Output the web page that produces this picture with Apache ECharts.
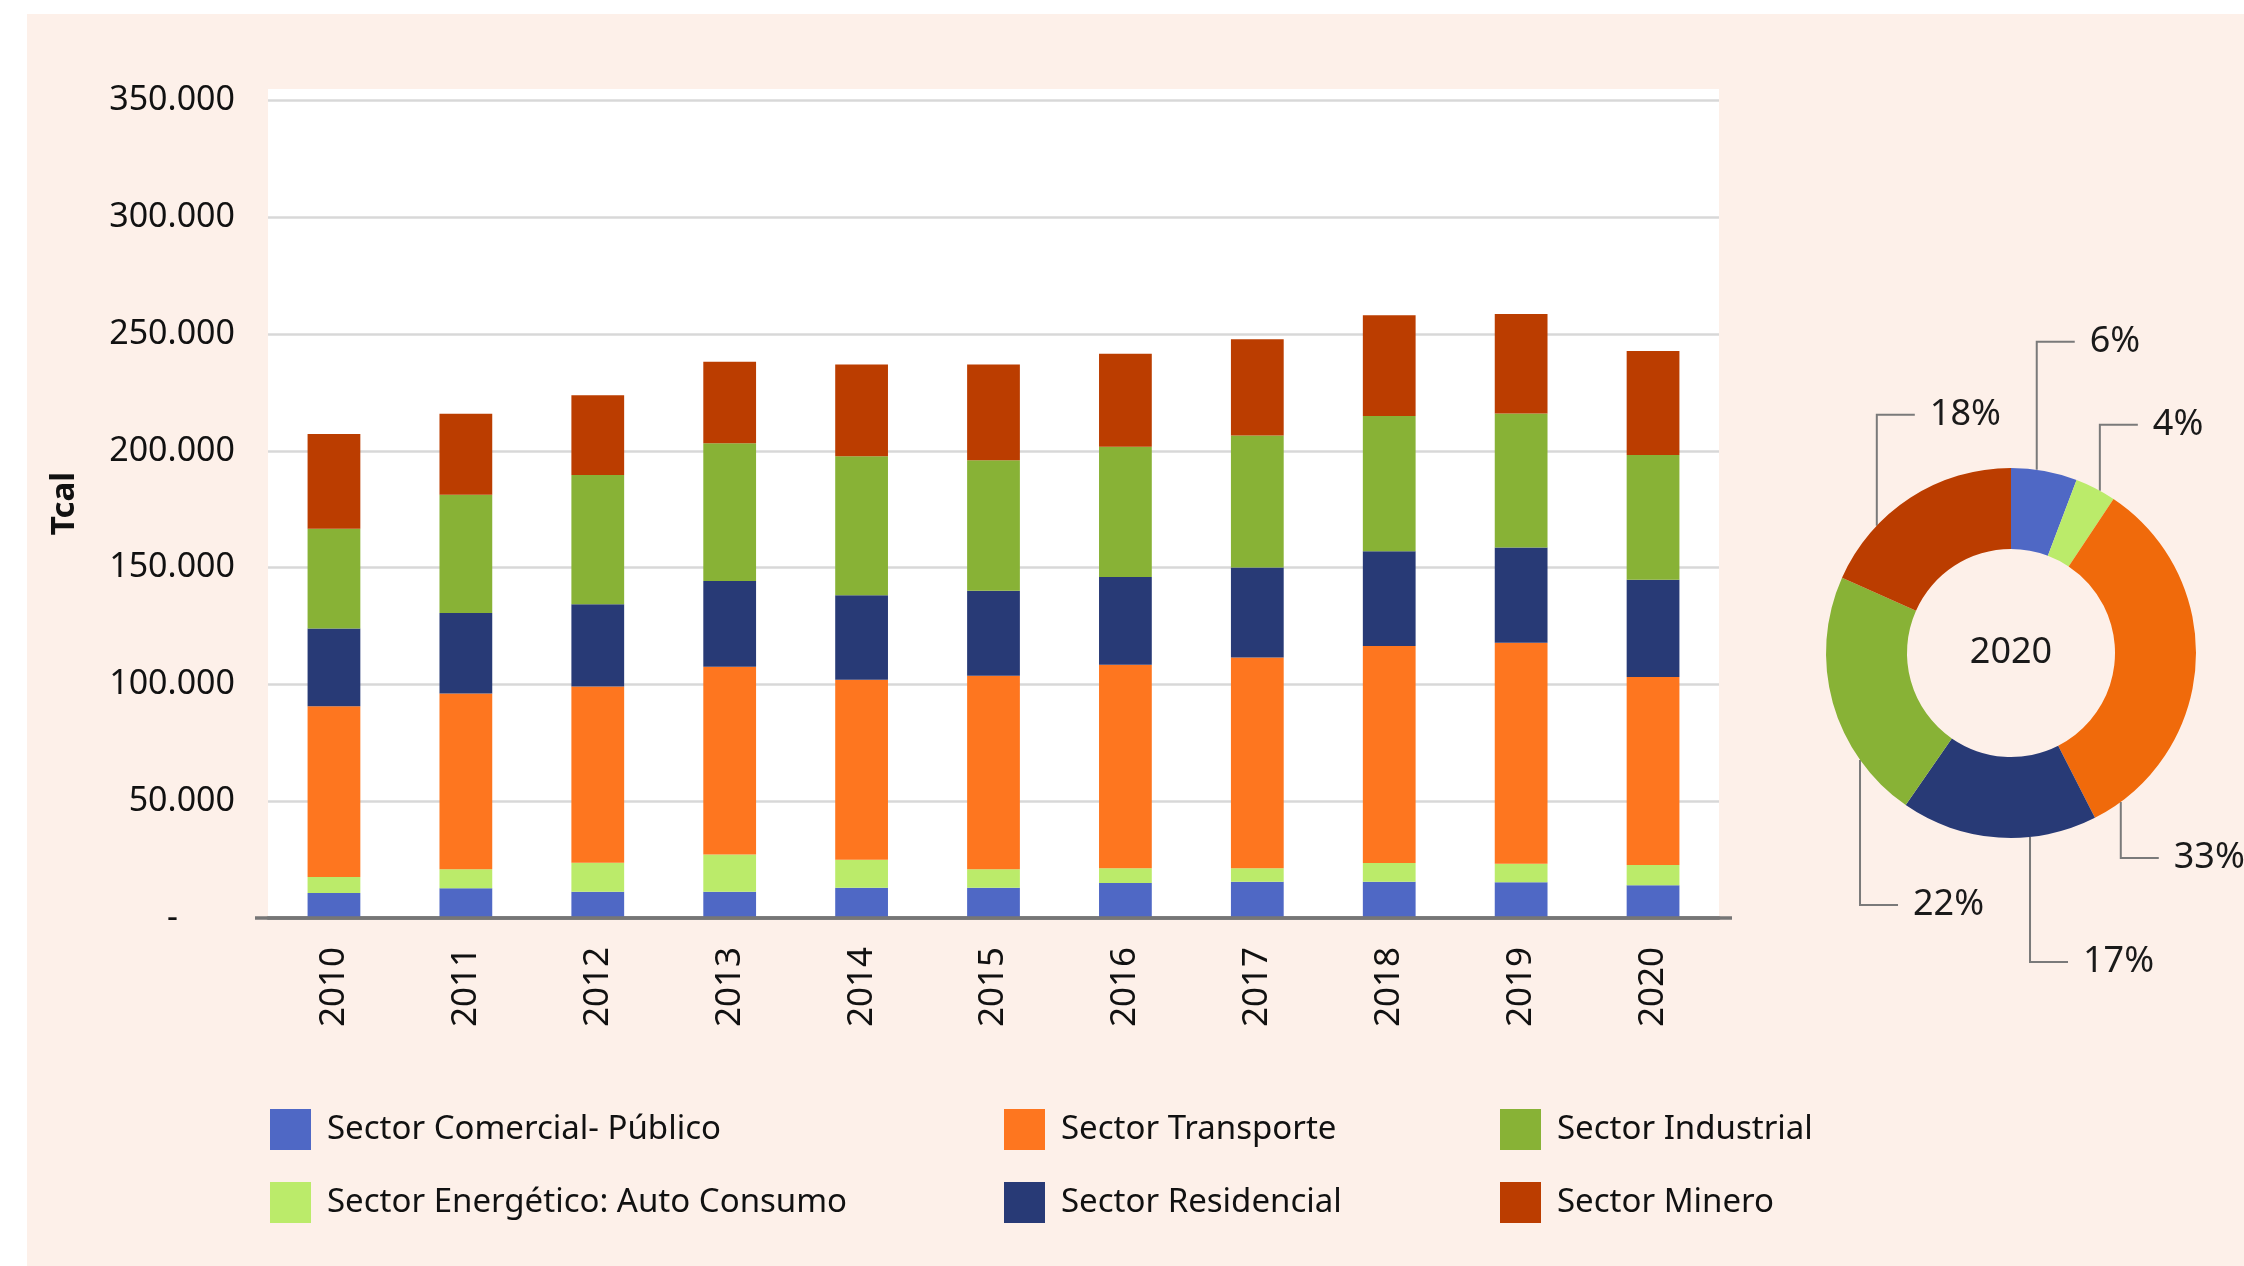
<!DOCTYPE html>
<html>
<head>
<meta charset="utf-8">
<script src="https://cdn.jsdelivr.net/npm/echarts@6/dist/echarts.min.js"></script>
<style>
  html, body { margin: 0; padding: 0; background: #ffffff; }
  #panel { position: absolute; left: 27px; top: 14px; right: 0; bottom: 0; background: #fdf0e9; }
  #chart { position: absolute; left: 0; top: 0; width: 2244px; height: 1266px; }
</style>
</head>
<body>
<div id="panel"></div>
<div id="chart"></div>
<script>
// Consumo final de energía por sector (Tcal), 2010-2020
const years = ['2010', '2011', '2012', '2013', '2014', '2015', '2016', '2017', '2018', '2019', '2020'];

const sectorNames = [
  'Sector Comercial- Público',
  'Sector Energético: Auto Consumo',
  'Sector Transporte',
  'Sector Residencial',
  'Sector Industrial',
  'Sector Minero'
];

const comercialPublico = [10700, 12700, 11200, 11200, 13000, 13000, 15000, 15500, 15500, 15300, 14000];
const energeticoAuto   = [6900, 8200, 12500, 16000, 11900, 7900, 6300, 5800, 8100, 7900, 8700];
const transporte       = [73100, 75200, 75400, 80400, 77100, 82800, 87200, 90200, 92900, 94700, 80500];
const residencial      = [33300, 34500, 35300, 36700, 36200, 36400, 37500, 38600, 40500, 40800, 41600];
const industrial       = [42700, 50600, 55300, 59000, 59500, 55900, 55800, 56500, 58000, 57300, 53500];
const minero           = [40600, 34700, 34200, 34900, 39300, 41000, 39800, 41200, 43100, 42700, 44500];

// Y axis ticks
const yTickStep = 50000;
const yAxisMax = 355000;

const sectorValues = [comercialPublico, energeticoAuto, transporte, residencial, industrial, minero];
const barColors = ['#4f68c5', '#bbeb6a', '#fe761f', '#283a76', '#88b236', '#bb3d00'];
const pieColors = ['#4f68c5', '#bbeb6a', '#f06a0b', '#283a76', '#88b236', '#bb3d00'];

const FONT = '"Noto Sans", "Open Sans", sans-serif';

function thousands(v) {
  return String(v).replace(/\B(?=(\d{3})+(?!\d))/g, '.');
}

// Plot frame (pixels)
const gridLeft = 268, gridTop = 89, gridWidth = 1451, gridHeight = 829;
const axisOverhang = 13;

// Donut geometry (pixels) and elbow leader lines for its labels
const pieCx = 2011, pieCy = 653, pieR0 = 104, pieR1 = 185;
const leaderStyle = [
  { angle: 8.0,   rise: -128 },
  { angle: 28.7,  rise: -66 },
  { angle: 143.6, rise: 56 },
  { angle: 174.1, rise: 125 },
  { angle: 234.7, rise: 145 },
  { angle: 313.5, rise: -111 }
];
const leaderArm = 38;

const lastIdx = years.length - 1;

const barSeries = sectorNames.map((name, i) => ({
  name: name,
  type: 'bar',
  stack: 'total',
  barWidth: '40%',
  itemStyle: { color: barColors[i] },
  emphasis: { disabled: true },
  data: sectorValues[i]
}));

const pieSeries = {
  type: 'pie',
  center: [pieCx, pieCy],
  radius: [pieR0, pieR1],
  startAngle: 90,
  clockwise: true,
  percentPrecision: 0,
  avoidLabelOverlap: false,
  emphasis: { disabled: true },
  label: {
    show: true,
    position: 'outside',
    formatter: '{d}%',
    fontFamily: FONT,
    fontSize: 36,
    color: '#1a1a1a'
  },
  labelLine: { show: true, lineStyle: { color: '#7a7a7a', width: 2 } },
  labelLayout: function (p) {
    const L = leaderStyle[p.dataIndex];
    const a = L.angle * Math.PI / 180;
    const ax = pieCx + pieR1 * Math.sin(a);
    const ay = pieCy - pieR1 * Math.cos(a);
    const ey = ay + L.rise;
    const ex = ax + leaderArm;
    return {
      x: ex + 15,
      y: ey,
      align: 'left',
      verticalAlign: 'middle',
      labelLinePoints: [[ax, ay], [ax, ey], [ex, ey]]
    };
  },
  data: sectorNames.map((name, i) => ({
    name: name,
    value: sectorValues[i][lastIdx],
    itemStyle: { color: pieColors[i] }
  }))
};

function legendColumn(left, names) {
  return {
    orient: 'vertical',
    left: left,
    top: 1109,
    padding: 0,
    itemGap: 32,
    itemWidth: 41,
    itemHeight: 41,
    icon: 'rect',
    selectedMode: false,
    textStyle: {
      fontFamily: FONT,
      fontSize: 33,
      color: '#111111',
      padding: [0, 0, 0, 11]
    },
    data: names
  };
}

const option = {
  animation: false,
  backgroundColor: 'transparent',
  textStyle: { fontFamily: FONT },
  grid: {
    left: gridLeft,
    top: gridTop,
    width: gridWidth,
    height: gridHeight,
    show: true,
    backgroundColor: '#ffffff',
    borderWidth: 0,
    containLabel: false
  },
  xAxis: {
    type: 'category',
    data: years,
    axisTick: { show: false },
    axisLine: { show: true, lineStyle: { color: '#767676', width: 3.5 } },
    axisLabel: {
      rotate: 90,
      margin: 29,
      fontFamily: FONT,
      fontSize: 35,
      color: '#111111'
    }
  },
  yAxis: {
    type: 'value',
    min: 0,
    max: yAxisMax,
    interval: yTickStep,
    name: 'Tcal',
    nameLocation: 'middle',
    nameGap: 187,
    nameTextStyle: {
      fontFamily: FONT,
      fontSize: 33,
      fontWeight: 'bold',
      color: '#111111'
    },
    axisLine: { show: false },
    axisTick: { show: false },
    splitLine: {
      show: true,
      showMaxLine: false,
      lineStyle: { color: '#d8d8d8', width: 2.5 }
    },
    axisLabel: {
      margin: 33,
      fontFamily: FONT,
      fontSize: 34,
      color: '#111111',
      formatter: function (v) {
        if (v === 0) return '{z|-}';
        if (v % yTickStep !== 0) return '';
        return thousands(v);
      },
      rich: {
        z: { fontFamily: FONT, fontSize: 34, color: '#111111', padding: [0, 57, 0, 0] }
      }
    }
  },
  legend: [
    legendColumn(270, [sectorNames[0], sectorNames[1]]),
    legendColumn(1004, [sectorNames[2], sectorNames[3]]),
    legendColumn(1500, [sectorNames[4], sectorNames[5]])
  ],
  graphic: [
    {
      // base line running slightly past both ends of the plot
      type: 'line',
      z: 5,
      shape: {
        x1: gridLeft - axisOverhang, y1: gridTop + gridHeight,
        x2: gridLeft + gridWidth + axisOverhang, y2: gridTop + gridHeight
      },
      style: { stroke: '#767676', lineWidth: 3.5 }
    },
    {
      type: 'text',
      x: pieCx,
      y: pieCy,
      style: {
        text: years[lastIdx],
        fontFamily: FONT,
        fontSize: 36,
        fill: '#1a1a1a',
        align: 'center',
        verticalAlign: 'middle'
      }
    }
  ],
  series: barSeries.concat([pieSeries])
};

const chart = echarts.init(document.getElementById('chart'), null, { renderer: 'canvas' });
chart.setOption(option);
</script>
</body>
</html>
